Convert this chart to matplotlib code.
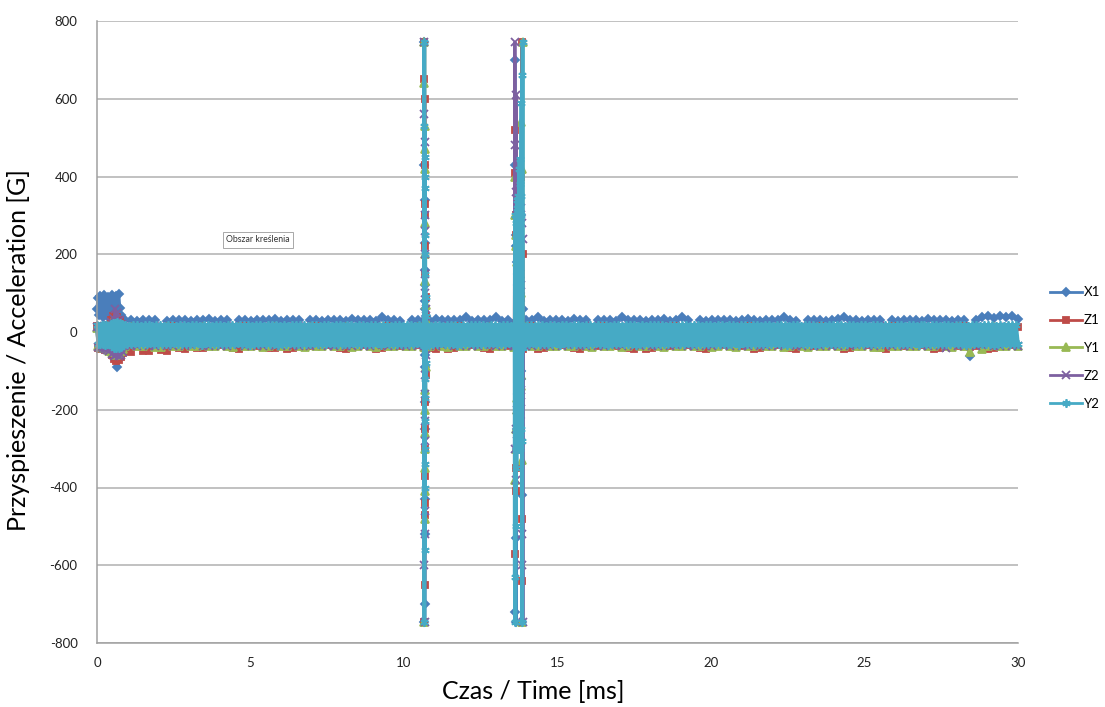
import numpy as np
import matplotlib.pyplot as plt

plt.rcParams['font.family'] = ['Lato', 'DejaVu Sans']
plt.rcParams['axes.unicode_minus'] = False

# --- czas [ms] ---
t_start = np.linspace(0, 0.85, 24)
t_base = np.linspace(0.9, 30, 150)
t_fine = np.linspace(0.9, 30, 450)
t_burst1 = np.linspace(10.66, 10.71, 22)
t_burst2 = np.linspace(13.60, 13.88, 32)

# --- X1 ---
X1_start = [60, 88, 45, 92, 70, 38, 95, 55, 85, 42, 90, 65,
            35, 96, 50, 88, 40, 93, -90, 98, 62, 45, 30, 28]
X1_base = [30, 31, 29, 32, 31, 30, -18, 29, 31, 30,
           32, 29, 31, 30, 33, 29, 31, 32, -20, 30,
           31, 29, 32, 30, 31, 33, 29, 30, 31, 32,
           -17, 30, 31, 29, 32, 30, 31, 29, 33, 31,
           30, 32, 29, 38, 31, 30, 29, -21, 32, 30,
           31, 29, 33, 30, 32, 31, 30, 38, 29, 31,
           30, 32, 38, 29, 31, -19, 30, 32, 31, 38,
           29, 31, 30, 32, 29, 33, 31, 30, -18, 31,
           30, 32, 29, 38, 31, 30, 32, 29, 31, 30,
           33, 29, 31, 38, 30, -20, 32, 29, 31, 30,
           31, 32, 29, 30, 33, 31, 29, 32, 30, 31,
           38, 30, 29, -17, 31, 32, 30, 29, 31, 33,
           38, 30, 31, 29, 32, 30, 31, -21, 30, 29,
           31, 32, 30, 29, 33, 31, 30, 32, 29, 31,
           30, -62, 32, 38, 40, 37, 42, 39, 40, 34]
X1_b1 = [20, 745, -745, 430, -700, 230, -520, 160, -430, 340, -250,
         120, -180, 80, -90, 60, -60, 40, -30, 20, -10, 25]
X1_b2 = [25, 700, -720, 430, -530, 250, -745, 220, -300, 180, -250, 150, -200,
         120, -160, 200, -180, 150, -220, 100, -150, 80, -120, 60, -100,
         300, -420, 200, -745, 60, -40, 28]

# --- Z1 ---
Z1_start = [15, -40, 10, -44, 12, -42, 16, -46, 14, -45, 18, -50,
            30, -60, 42, -70, 45, -75, 38, -72, 30, -65, 20, -55]
Z1_base = [-50, -52, 14, -48, -50, 13, -46, -48, 15, -42, -43, 12, -41, -42, 14,
           -35, -34, 13, -42, -43, 15, -34, -35, 12, -42, -41, 14, -43, -42, 13,
           -34, -35, 15, -36, -34, 12, -42, -43, 14, -35, -34, 13, -43, -42, 15,
           -34, -36, 12, -35, -34, 14, -42, -43, 13, -44, -42, 15, -35, -34, 12,
           -42, -43, 14, -34, -35, 13, -36, -34, 15, -43, -42, 12, -35, -34, 14,
           -42, -43, 13, -34, -35, 15, -35, -36, 12, -42, -44, 14, -43, -42, 13,
           -34, -35, 15, -36, -34, 12, -42, -43, 14, -35, -34, 13, -34, -36, 15,
           -43, -42, 12, -35, -34, 14, -42, -43, 13, -34, -35, 15, -36, -34, 12,
           -43, -42, 14, -35, -34, 13, -42, -44, 15, -34, -35, 12, -36, -34, 14,
           -43, -42, 13, -34, -35, 15, -38, -36, 12, -44, -42, 14, -35, -34, 13]
Z1_b1 = [-30, 650, -745, 745, -650, 600, -470, 430, -440, 330, -370,
         300, -300, 220, -250, 150, -180, 90, -110, 40, -45, -35]
Z1_b2 = [-30, 520, -570, 410, -410, 300, -350, 250, -300, 200, -280, 180, -250,
         160, -200, 220, -260, 180, -230, 150, -200, 120, -150, 90, -120,
         400, -480, 745, -640, 200, -45, -35]

# --- Y1 ---
Y1_start = [10, -35, 12, -38, 8, -40, 14, -42, 12, -44, 16, -48,
            22, -52, 28, -50, 25, -58, 22, -55, 18, -50, 15, -45]
Y1_base = [-37, 12, -36, -36, 10, -38, -38, 13, -35, -35, 11, -37, -37, 12, -36,
           -36, 10, -37, -38, 13, -36, -35, 11, -38, -37, 12, -35, -36, 10, -37,
           -38, 13, -36, -35, 11, -37, -37, 12, -38, -36, 10, -35, -38, 13, -37,
           -35, 11, -36, -37, 12, -38, -36, 10, -35, -38, 13, -37, -35, 11, -36,
           -37, 12, -36, -36, 10, -38, -38, 13, -35, -35, 11, -37, -37, 12, -36,
           -36, 10, -37, -38, 13, -36, -35, 11, -38, -37, 12, -35, -36, 10, -37,
           -38, 13, -36, -35, 11, -37, -37, 12, -38, -36, 10, -35, -38, 13, -37,
           -35, 11, -36, -37, 12, -38, -36, 10, -35, -38, 13, -37, -35, 11, -36,
           -37, 12, -36, -36, 10, -38, -38, 13, -35, -35, 11, -37, -37, 12, -36,
           -36, 10, -37, -38, 13, -36, -52, 11, -45, -37, 12, -35, -36, 10, -37]
Y1_b1 = [-30, 640, -745, 745, -480, 530, -410, 420, -350, 470, -300,
         280, -260, 200, -200, 130, -150, 70, -90, 30, -40, -30]
Y1_b2 = [-30, 400, -380, 300, -300, 250, -250, 220, -200, 180, -170, 160, -150,
         290, -250, 200, -220, 180, -200, 150, -170, 120, -140, 100, -110,
         540, -330, 420, -745, 745, -30, -32]

# --- Z2 ---
Z2_start = [12, -38, 14, -40, 10, -42, 15, -44, 13, -46, 18, -50,
            25, -56, 35, -62, 58, -60, 50, -63, 30, -58, 20, -52]
Z2_base = [14, -36, -37, 13, -35, -36, 15, -37, -35, 12, -36, -34, 14, -35, -37,
           13, -37, -36, 15, -34, -35, 12, -36, -37, 14, -37, -35, 13, -35, -36,
           15, -36, -34, 12, -37, -36, 14, -35, -37, 13, -36, -35, 15, -34, -37,
           12, -37, -36, 14, -36, -35, 13, -35, -34, 15, -37, -36, 12, -36, -37,
           14, -34, -35, 13, -37, -36, 15, -35, -37, 12, -36, -35, 14, -37, -34,
           13, -36, -37, 15, -35, -36, 12, -34, -37, 14, -36, -35, 13, -37, -36,
           15, -35, -34, 12, -37, -36, 14, -36, -37, 13, -34, -35, 15, -37, -36,
           12, -35, -37, 14, -36, -34, 13, -37, -35, 15, -36, -37, 12, -35, -36,
           14, -37, -34, 13, -36, -35, 15, -34, -37, 12, -37, -36, 14, -35, -37,
           13, -36, -40, 15, -37, -35, 12, -36, -34, 14, -35, -37, 13, -36, -35]
Z2_b1 = [-30, 745, -600, 560, -745, 490, -520, 300, -460, 260, -280,
         200, -230, 150, -160, 100, -110, 60, -60, 25, -30, -32]
Z2_b2 = [-30, 745, -300, 480, -380, 610, -250, 360, -200, 300, -280, 250, -220,
         200, -170, 150, -140, 220, -250, 200, -230, 150, -180, 120, -150,
         320, -520, 280, -600, 240, -745, -34]

# --- Y2 ---
Y2_start = [18, -30, 16, -32, 19, -31, 17, -33, 18, -30, 16, -32,
            20, -36, 22, -40, 24, -42, 25, -40, 22, -38, 20, -34]
Y2_base = [17, -30, 16, -31, 18, -29, 17, -32, 16, -30,
           18, -31, 17, -29, 16, -32, 18, -30, 17, -31,
           16, -30, 18, -32, 17, -29, 16, -31, 18, -30,
           17, -32, 16, -30, 18, -31, 17, -29, 16, -33,
           18, -29, 17, -31, 16, -30, 18, -32, 17, -30,
           16, -31, 18, -30, 17, -32, 16, -29, 18, -31,
           19, -30, 17, -33, 16, -31, 18, -30, 17, -29,
           16, -32, 19, -30, 17, -31, 18, -33, 16, -30,
           17, -31, 16, -29, 19, -32, 17, -30, 18, -31,
           17, -30, 16, -31, 18, -29, 17, -32, 16, -30,
           18, -31, 17, -29, 16, -32, 18, -30, 17, -31,
           16, -30, 18, -32, 17, -29, 16, -31, 18, -30,
           17, -32, 16, -30, 18, -31, 17, -29, 16, -33,
           18, -29, 17, -31, 16, -30, 18, -32, 17, -30,
           16, -31, 18, -30, 17, -32, 16, -29, 18, -31,
           19, -30, 17, -33, 16, -31, 18, -30, 17, -29,
           16, -32, 19, -30, 17, -31, 18, -33, 16, -30,
           17, -31, 16, -29, 19, -32, 17, -30, 18, -31,
           17, -30, 16, -31, 18, -29, 17, -32, 16, -30,
           18, -31, 17, -29, 16, -32, 18, -30, 17, -31,
           16, -30, 18, -32, 17, -29, 16, -31, 18, -30,
           17, -32, 16, -30, 18, -31, 17, -29, 16, -33,
           18, -29, 17, -31, 16, -30, 18, -32, 17, -30,
           16, -31, 18, -30, 17, -32, 16, -29, 18, -31,
           19, -30, 17, -33, 16, -31, 18, -30, 17, -29,
           16, -32, 19, -30, 17, -31, 18, -33, 16, -30,
           17, -31, 16, -29, 19, -32, 17, -30, 18, -31,
           17, -30, 16, -31, 18, -29, 17, -32, 16, -30,
           18, -31, 17, -29, 16, -32, 18, -30, 17, -31,
           16, -30, 18, -32, 17, -29, 16, -31, 18, -30,
           17, -32, 16, -30, 18, -31, 17, -29, 16, -33,
           18, -29, 17, -31, 16, -30, 18, -32, 17, -30,
           16, -31, 18, -30, 17, -32, 16, -29, 18, -31,
           19, -30, 17, -33, 16, -31, 18, -30, 17, -29,
           16, -32, 19, -30, 17, -31, 18, -33, 16, -30,
           17, -31, 16, -29, 19, -32, 17, -30, 18, -31,
           17, -30, 16, -31, 18, -29, 17, -32, 16, -30,
           18, -31, 17, -29, 16, -32, 18, -30, 17, -31,
           16, -30, 18, -32, 17, -29, 16, -31, 18, -30,
           17, -32, 16, -30, 18, -31, 17, -29, 16, -33,
           18, -29, 17, -31, 16, -30, 18, -32, 17, -30,
           16, -31, 18, -30, 17, -32, 16, -29, 18, -31,
           19, -30, 17, -33, 16, -31, 18, -30, 17, -29,
           16, -32, 19, -30, 17, -31, 18, -33, 16, -30,
           17, -31, 16, -29, 19, -32, 17, -30, 18, -31]
Y2_b1 = [-25, 745, -745, 530, -560, 450, -400, 400, -340, 370, -300,
         250, -230, 200, -170, 150, -120, 90, -80, 40, -35, 15]
Y2_b2 = [-20, -630, 300, -745, 250, -500, 280, -350, 320, -300, 340, -280, 300,
         -250, 350, -220, 420, -300, 445, -260, 380, -300, 350, -250, 300,
         590, -280, 660, -745, 745, -40, 16]

names = ['X1', 'Z1', 'Y1', 'Z2', 'Y2']
colors = ['#4a7ebb', '#be4b48', '#98b954', '#7d60a0', '#46aac5']
markers = ['D', 's', '^', 'x', (6, 2, 0)]
msizes = [4.5, 5, 5.5, 5.5, 6]
widths = [2.3, 2.3, 2.3, 2.3, 2.7]


def join(parts):
    for tt, vv in parts:
        assert len(tt) == len(vv), (len(tt), len(vv))
    t = np.concatenate([p[0] for p in parts])
    y = np.concatenate([np.asarray(p[1], float) for p in parts])
    o = np.argsort(t, kind='stable')
    return t[o], y[o]


series = [
    join([(t_start, X1_start), (t_base, X1_base), (t_burst1, X1_b1), (t_burst2, X1_b2)]),
    join([(t_start, Z1_start), (t_base, Z1_base), (t_burst1, Z1_b1), (t_burst2, Z1_b2)]),
    join([(t_start, Y1_start), (t_base, Y1_base), (t_burst1, Y1_b1), (t_burst2, Y1_b2)]),
    join([(t_start, Z2_start), (t_base, Z2_base), (t_burst1, Z2_b1), (t_burst2, Z2_b2)]),
    join([(t_start, Y2_start), (t_fine, Y2_base), (t_burst1, Y2_b1), (t_burst2, Y2_b2)]),
]

fig = plt.figure(figsize=(11.05, 7.07), dpi=100)
ax = fig.add_axes([97 / 1105, 1 - 643 / 707, 921 / 1105, 622 / 707])

for (t, y), n, c, m, s, w in zip(series, names, colors, markers, msizes, widths):
    ax.plot(t, y, color=c, lw=w, marker=m, ms=s, mfc=c, mec=c, mew=1.3,
            label=n, clip_on=False)

ax.set_xlim(0, 30)
ax.set_ylim(-800, 800)
ax.set_xticks(np.arange(0, 31, 5))
ax.set_yticks(np.arange(-800, 801, 200))
ax.grid(axis='y', color='#b0b0b0', lw=1.1)
ax.set_axisbelow(True)
for sp in ['top', 'right']:
    ax.spines[sp].set_visible(False)
for sp in ['left', 'bottom']:
    ax.spines[sp].set_color('#a0a0a0')
    ax.spines[sp].set_linewidth(1.1)
ax.tick_params(length=0, labelsize=9.5, colors='#222222')
ax.tick_params(axis='y', pad=14)
ax.tick_params(axis='x', pad=10)

ax.set_xlabel('Czas / Time [ms]', fontsize=18)
ax.set_ylabel('Przyspieszenie / Acceleration [G]', fontsize=18)
ax.xaxis.set_label_coords((533 - 97) / 921, (643 - 680) / 622)
ax.yaxis.set_label_coords((30 - 97) / 921, (643 - 350) / 622)

fig.text(226 / 1105, 1 - 240 / 707, 'Obszar kreślenia', fontsize=6.3, ha='left',
         va='center', color='#333333',
         bbox=dict(boxstyle='square,pad=0.35', fc='white', ec='#9a9a9a', lw=0.6))

leg = fig.legend(loc='center left', bbox_to_anchor=(1050 / 1105, 1 - 348 / 707),
                 frameon=False, fontsize=9.5, handlelength=2.4, handletextpad=0.15,
                 labelspacing=1.2, borderpad=0, borderaxespad=0)
for ln in leg.get_lines():
    ln.set_linewidth(2.0)

fig.savefig('out.png', dpi=100)
